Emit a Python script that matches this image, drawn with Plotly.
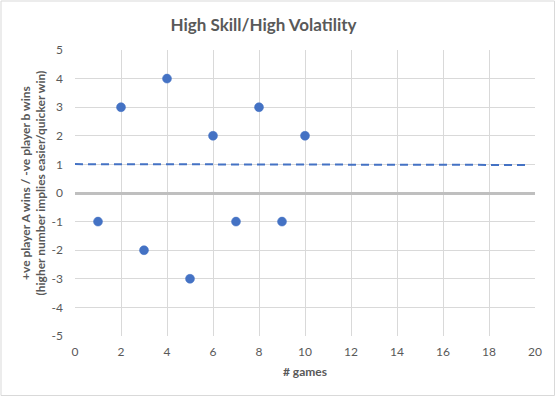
import plotly.graph_objects as go

games = [1, 2, 3, 4, 5, 6, 7, 8, 9, 10]
margin = [-1, 3, -2, 4, -3, 2, -1, 3, -1, 2]
trend_x = [0, 19.7]
trend_y = [1.01, 0.98]
x_ticks = [0, 2, 4, 6, 8, 10, 12, 14, 16, 18, 20]
y_ticks = [-5, -4, -3, -2, -1, 0, 1, 2, 3, 4, 5]
y_labels = [str(v) for v in y_ticks]
x_labels = [str(v) for v in x_ticks]

W, H = 556, 397
ml, mr, mt, mb = 75, 21, 50, 61
pw, ph = W - ml - mr, H - mt - mb

fig = go.Figure()
fig.add_trace(go.Scatter(x=trend_x, y=trend_y, mode="lines",
                         line=dict(color="#4472c4", width=2, dash="8px,5px"),
                         hoverinfo="skip", showlegend=False))
fig.add_trace(go.Scatter(x=games, y=margin, mode="markers",
                         marker=dict(color="#4472c4", size=9,
                                     line=dict(color="#4472c4", width=0.5)),
                         showlegend=False))

font_fam = "Lato, Open Sans, sans-serif"
fig.update_layout(
    width=W, height=H,
    margin=dict(l=ml, r=mr, t=mt, b=mb),
    paper_bgcolor="white", plot_bgcolor="white",
    font=dict(family=font_fam, color="#595959", size=12),
    title=dict(text="<b>High Skill/High Volatility</b>", x=263.5 / W, xanchor="center",
               xref="container",
               y=1 - 25 / H, yanchor="middle",
               font=dict(size=17, color="#595959", family=font_fam)),
    xaxis=dict(range=[0, 20], tickvals=x_ticks, ticktext=x_labels, showgrid=True, gridcolor="#d9d9d9",
               gridwidth=1, zeroline=False, showline=False, ticks="", ticklabelstandoff=7,
               tickfont=dict(size=12, color="#595959"),
               title=dict(text="<b># games</b>", font=dict(size=12, color="#595959"), standoff=9)),
    yaxis=dict(range=[-5, 5], tickvals=y_ticks, ticktext=y_labels, showgrid=True, gridcolor="#d9d9d9",
               gridwidth=1, zeroline=True, zerolinecolor="#bfbfbf", zerolinewidth=3,
               showline=False, ticks="", ticklabelstandoff=11,
               tickfont=dict(size=12, color="#595959")),
    annotations=[dict(text="<b>+ve player A wins / -ve player b wins<br>(higher number implies easier/quicker win)</b>",
                      textangle=-90, xref="paper", yref="paper",
                      x=(32.5 - ml) / pw, y=(H - mb - 183) / ph,
                      xanchor="center", yanchor="middle", showarrow=False,
                      font=dict(size=12, color="#595959", family=font_fam))],
    shapes=[dict(type="rect", xref="paper", yref="paper",
                 x0=-(ml - 1) / pw, x1=1 + (mr - 1.5) / pw,
                 y0=-(mb - 1.5) / ph, y1=1 + (mt - 1) / ph,
                 line=dict(color="#d9d9d9", width=1), layer="below")],
)
fig.write_html("out.html", config={"displayModeBar": False},
               post_script="document.body.style.margin='0';document.body.style.padding='0';document.body.style.overflow='hidden';")
